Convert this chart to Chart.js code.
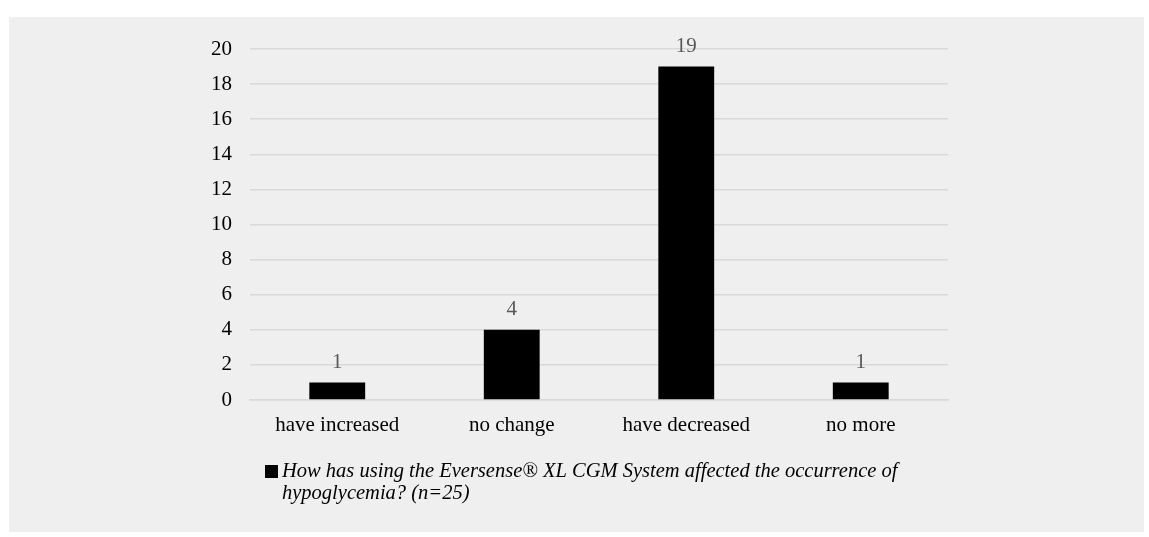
<!DOCTYPE html>
<html>
<head>
<meta charset="utf-8">
<script src="https://cdn.jsdelivr.net/npm/chart.js@4/dist/chart.umd.min.js"></script>
<style>
  html, body { margin: 0; padding: 0; background: #ffffff; }
  #panel { position: absolute; left: 9px; top: 17px; width: 1135px; height: 515px; background: #efefef; }
  canvas { display: block; }
</style>
</head>
<body>
<div id="panel"><canvas id="chart" width="1135" height="515"></canvas></div>
<script>
const categories = ['have increased', 'no change', 'have decreased', 'no more'];
const responses = [1, 4, 19, 1];
const yTicks = [0, 2, 4, 6, 8, 10, 12, 14, 16, 18, 20];
const seriesLabel = 'How has using the Eversense\u00AE XL CGM System affected the occurrence of hypoglycemia? (n=25)';

const SERIF = '"Liberation Serif", "Times New Roman", serif';

// Value labels above each bar
const valueLabels = {
  id: 'valueLabels',
  afterDatasetsDraw(chart) {
    const ctx = chart.ctx;
    const meta = chart.getDatasetMeta(0);
    ctx.save();
    ctx.font = '21px ' + SERIF;
    ctx.fillStyle = '#595959';
    ctx.textAlign = 'center';
    ctx.textBaseline = 'middle';
    meta.data.forEach((bar, i) => {
      ctx.fillText(String(chart.data.datasets[0].data[i]), bar.x, bar.y - 20);
    });
    ctx.restore();
  }
};

// Legend with wrapped italic text under the axis
const wrappedLegend = {
  id: 'wrappedLegend',
  afterDraw(chart) {
    const ctx = chart.ctx;
    const ds = chart.data.datasets[0];
    const x0 = 256, y0 = 448, box = 13;
    const textX = x0 + box + 4;
    const maxW = 640, lineH = 22;
    ctx.save();
    ctx.fillStyle = ds.backgroundColor;
    ctx.fillRect(x0, y0, box, box);
    ctx.font = 'italic 20.5px ' + SERIF;
    ctx.fillStyle = '#000000';
    ctx.textAlign = 'left';
    ctx.textBaseline = 'alphabetic';
    const words = ds.label.split(' ');
    const lines = [];
    let cur = '';
    words.forEach(w => {
      const test = cur ? cur + ' ' + w : w;
      if (ctx.measureText(test).width > maxW && cur) { lines.push(cur); cur = w; }
      else cur = test;
    });
    if (cur) lines.push(cur);
    lines.forEach((ln, i) => ctx.fillText(ln, textX, 460 + i * lineH));
    ctx.restore();
  }
};

new Chart(document.getElementById('chart'), {
  type: 'bar',
  data: {
    labels: categories,
    datasets: [{
      label: seriesLabel,
      data: responses,
      backgroundColor: '#000000',
      borderWidth: 0,
      barPercentage: 0.64,
      categoryPercentage: 0.5
    }]
  },
  options: {
    responsive: false,
    animation: false,
    devicePixelRatio: 1,
    layout: { padding: { left: 0, right: 196, top: 32, bottom: 0 } },
    plugins: {
      legend: { display: false },
      tooltip: { enabled: false }
    },
    scales: {
      x: {
        grid: { display: false, drawTicks: false },
        border: { display: true, color: '#d9d9d9', width: 1.5 },
        ticks: { color: '#000000', font: { family: SERIF, size: 21 }, padding: 13, maxRotation: 0 },
        afterFit(scale) { scale.height = 132; }
      },
      y: {
        min: 0,
        max: 20,
        afterBuildTicks(scale) { scale.ticks = yTicks.map(v => ({ value: v })); },
        grid: { color: '#d9d9d9', lineWidth: 1.5, drawTicks: false },
        border: { display: false },
        ticks: { color: '#000000', font: { family: SERIF, size: 21 }, padding: 18 },
        afterFit(scale) { scale.width = 241; }
      }
    }
  },
  plugins: [valueLabels, wrappedLegend]
});
</script>
</body>
</html>
